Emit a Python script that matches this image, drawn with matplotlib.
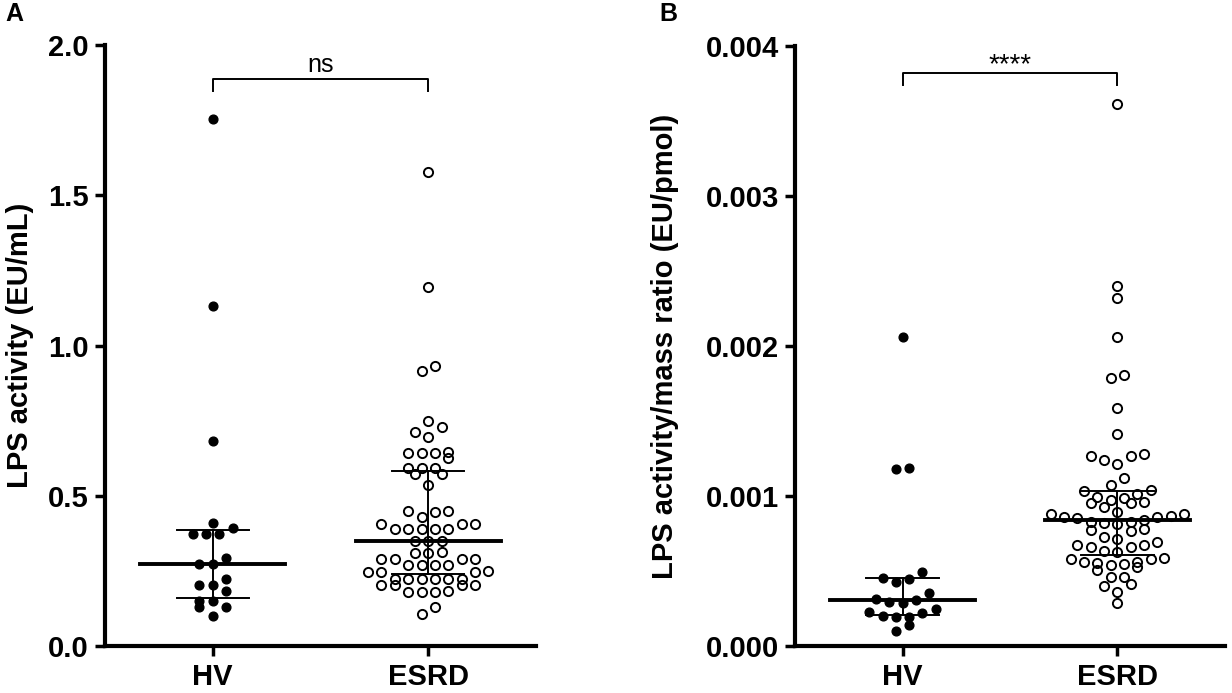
import numpy as np
import matplotlib
matplotlib.use('Agg')
import matplotlib.pyplot as plt

plt.rcParams['font.family'] = ['Liberation Sans', 'DejaVu Sans']

# 그룹 이름
groups = ['HV', 'ESRD']

# A: LPS activity (EU/mL)
hv_lps = [1.753, 1.131, 0.683, 0.411, 0.394, 0.372, 0.372, 0.372, 0.292, 0.273,
          0.273, 0.222, 0.203, 0.203, 0.184, 0.151, 0.151, 0.131, 0.131, 0.100]
esrd_lps = [1.579, 1.194, 0.933, 0.914, 0.748, 0.729, 0.714, 0.696, 0.644, 0.645,
            0.643, 0.644, 0.626, 0.592, 0.593, 0.591, 0.573, 0.573, 0.537, 0.448,
            0.449, 0.447, 0.429, 0.407, 0.407, 0.406, 0.389, 0.390, 0.388, 0.389,
            0.389, 0.350, 0.351, 0.349, 0.311, 0.312, 0.310, 0.290, 0.291, 0.289,
            0.290, 0.270, 0.271, 0.269, 0.270, 0.248, 0.249, 0.247, 0.248, 0.223,
            0.224, 0.222, 0.223, 0.224, 0.222, 0.203, 0.204, 0.202, 0.203, 0.181,
            0.182, 0.180, 0.181, 0.131, 0.106]
lps_median = [0.273, 0.350]
lps_q1 = [0.159, 0.239]
lps_q3 = [0.387, 0.584]

# B: LPS activity/mass ratio (EU/pmol)
hv_ratio = [0.002062, 0.001180, 0.001187, 0.000495, 0.000447, 0.000429, 0.000455,
            0.000353, 0.000307, 0.000285, 0.000295, 0.000313, 0.000247, 0.000222,
            0.000229, 0.000195, 0.000195, 0.000202, 0.000138, 0.000100]
esrd_ratio = [0.003613, 0.002400, 0.002320, 0.002062, 0.001789, 0.001807, 0.001585,
              0.001413, 0.001265, 0.001240, 0.001265, 0.001280, 0.001213, 0.001122,
              0.001073, 0.001033, 0.001015, 0.001038, 0.000995, 0.000973, 0.000953,
              0.000953, 0.000960, 0.000989, 0.000925, 0.000891, 0.000882, 0.000882,
              0.000862, 0.000855, 0.000825, 0.000820, 0.000815, 0.000827, 0.000842,
              0.000860, 0.000869, 0.000782, 0.000767, 0.000775, 0.000713, 0.000729,
              0.000673, 0.000658, 0.000631, 0.000627, 0.000658, 0.000673, 0.000691,
              0.000580, 0.000562, 0.000551, 0.000542, 0.000507, 0.000529, 0.000547,
              0.000562, 0.000580, 0.000589, 0.000462, 0.000462, 0.000413, 0.000402,
              0.000362, 0.000285]
ratio_median = [0.000307, 0.000840]
ratio_q1 = [0.000207, 0.000607]
ratio_q3 = [0.000451, 0.001033]

sig_labels = ['ns', '****']


# GraphPad 스타일 row 배치 (값이 비슷한 점끼리 한 줄로)
def swarm_offsets(values, row_gap, step):
    values = np.asarray(values)
    order = np.argsort(values, kind='stable')
    offsets = np.zeros(len(values))
    rows = []
    cur = [order[0]]
    for idx in order[1:]:
        if values[idx] - values[cur[0]] < row_gap:
            cur.append(idx)
        else:
            rows.append(cur)
            cur = [idx]
    rows.append(cur)
    for row in rows:
        n = len(row)
        for k, idx in enumerate(row):
            if n % 2:
                slot = ((k + 1) // 2) * (-1 if k % 2 else 1)
            else:
                slot = (k // 2 + 0.5) * (-1 if k % 2 == 0 else 1)
            offsets[idx] = slot * step
    return offsets


def draw_panel(ax, hv, esrd, median, q1, q3, ymax, fmt, ylabel, sig, bracket_y, bracket_drop, sig_offset, sig_size):
    row_gap = ymax * 0.019
    step = 0.062
    for i, (vals, filled) in enumerate([(hv, True), (esrd, False)]):
        xs = i + swarm_offsets(vals, row_gap, step)
        if filled:
            ax.plot(xs, vals, 'o', color='black', markersize=6.3, zorder=2, clip_on=False)
        else:
            ax.plot(xs, vals, 'o', markerfacecolor='none', markeredgecolor='black',
                    markeredgewidth=1.4, markersize=6.6, zorder=2, clip_on=False)
        # 중앙값 + 사분위 범위
        ax.plot([i - 0.337, i + 0.337], [median[i], median[i]], color='black', lw=2.8, zorder=3)
        ax.plot([i - 0.168, i + 0.168], [q1[i], q1[i]], color='black', lw=1.4, zorder=3)
        ax.plot([i - 0.168, i + 0.168], [q3[i], q3[i]], color='black', lw=1.4, zorder=3)
        ax.plot([i, i], [q1[i], q3[i]], color='black', lw=1.4, zorder=3)

    # 유의성 표시
    ax.plot([0, 0, 1, 1], [bracket_y - bracket_drop, bracket_y, bracket_y, bracket_y - bracket_drop],
            color='black', lw=1.4)
    ax.annotate(sig, xy=(0.5, bracket_y), xytext=(0, sig_offset), textcoords='offset points',
                ha='center', va='baseline', fontsize=sig_size)

    ax.set_xlim(-0.5, 1.5)
    ax.set_ylim(0, ymax)
    ax.set_xticks([0, 1])
    ax.set_xticklabels(groups, fontsize=21, fontweight='bold')
    ax.set_yticks(np.linspace(0, ymax, 5))
    ax.set_yticklabels([fmt % v for v in np.linspace(0, ymax, 5)], fontsize=21, fontweight='bold')
    ax.set_ylabel(ylabel, fontsize=21, fontweight='bold')
    for side in ['top', 'right']:
        ax.spines[side].set_visible(False)
    for side in ['left', 'bottom']:
        ax.spines[side].set_linewidth(3)
    ax.tick_params(axis='both', direction='out', length=7.5, width=2.5)
    ax.tick_params(axis='x', pad=5)
    ax.tick_params(axis='y', pad=4)


fig = plt.figure(figsize=(12.32, 6.93), dpi=100)
ax_a = fig.add_axes([0.0852, 0.0678, 0.3498, 0.867])
ax_b = fig.add_axes([0.6453, 0.0678, 0.349, 0.866])

draw_panel(ax_a, hv_lps, esrd_lps, lps_median, lps_q1, lps_q3, 2.0, '%.1f',
           'LPS activity (EU/mL)', sig_labels[0], 1.887, 0.04, 5, 18)
draw_panel(ax_b, hv_ratio, esrd_ratio, ratio_median, ratio_q1, ratio_q3, 0.004, '%.3f',
           'LPS activity/mass ratio (EU/pmol)', sig_labels[1], 0.003818, 0.00008, 1, 20)

ax_a.yaxis.set_label_coords(-0.165, 0.5)
ax_b.yaxis.set_label_coords(-0.27, 0.5)

fig.text(0.004, 0.997, 'A', fontsize=18, fontweight='bold', va='top')
fig.text(0.535, 0.997, 'B', fontsize=18, fontweight='bold', va='top')

fig.savefig('out.png', dpi=100)
